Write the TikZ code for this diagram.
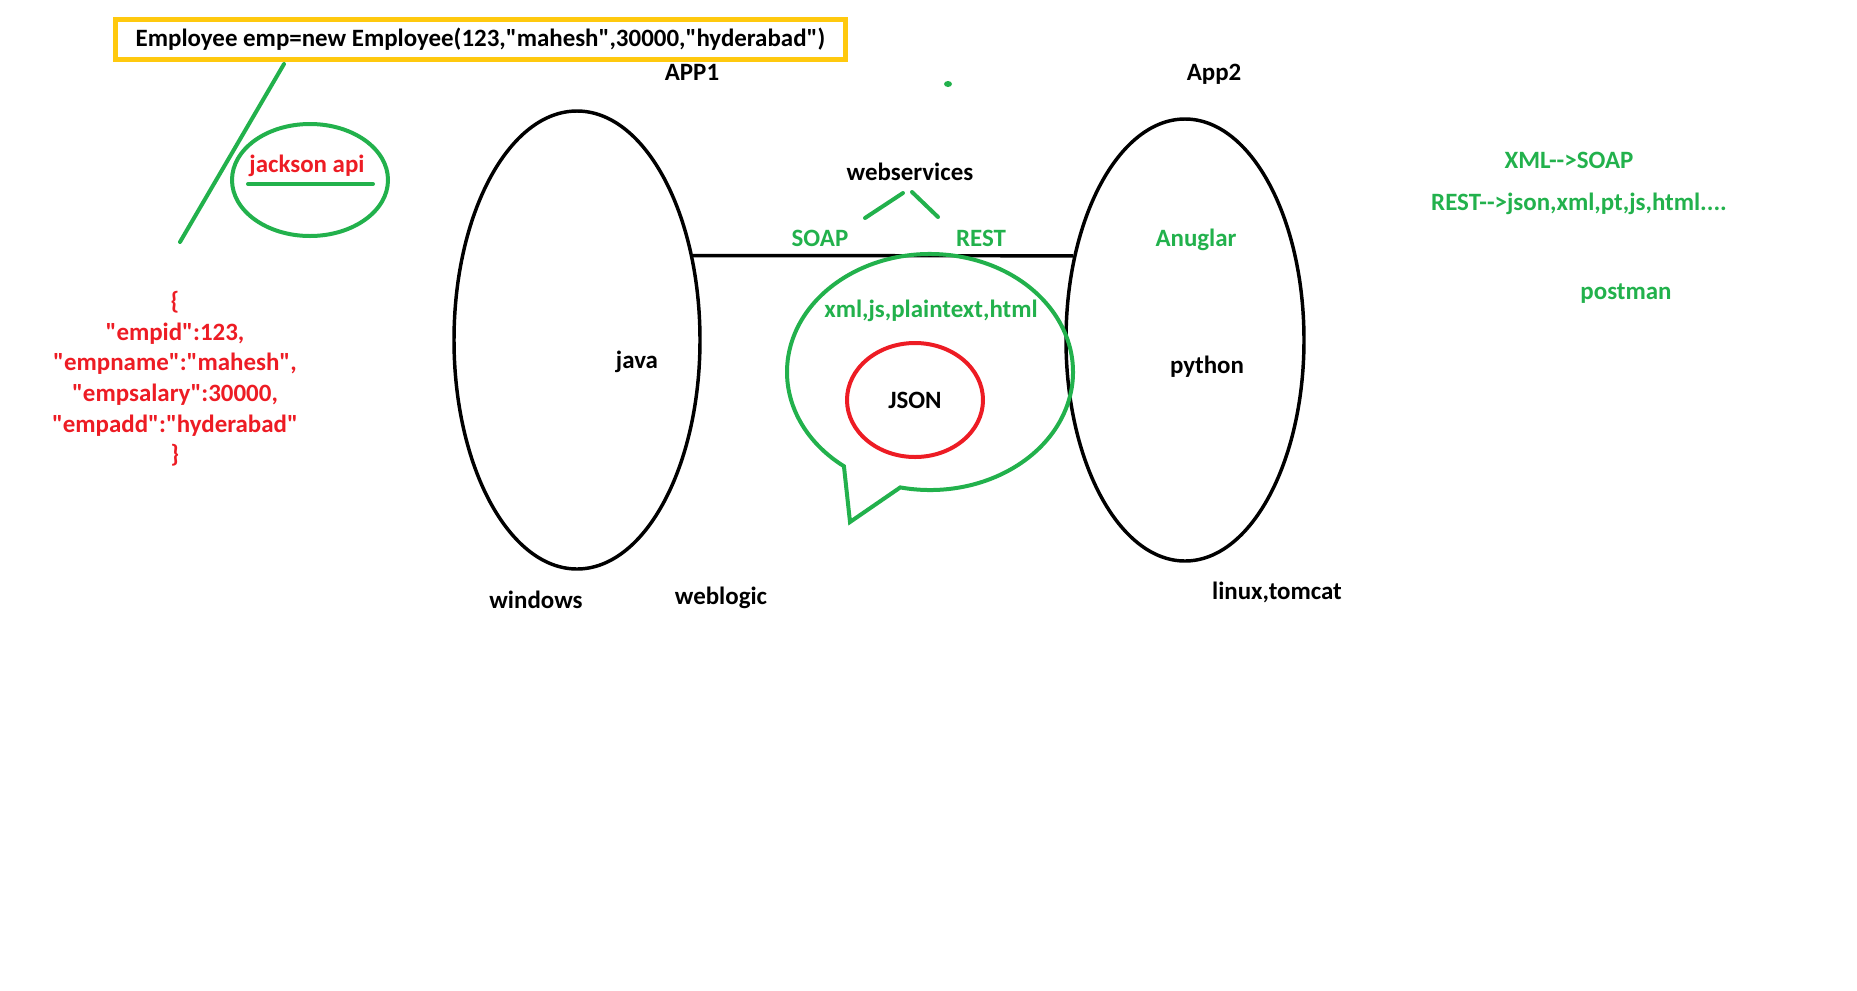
\documentclass[tikz,border=0pt]{standalone}
\usepackage{fontspec}
\setmainfont{Carlito}[Ligatures=TeXOff]
\usetikzlibrary{shapes.geometric}

\definecolor{paintgreen}{HTML}{22B14C}
\definecolor{paintred}{HTML}{ED1C24}
\definecolor{paintgold}{HTML}{FFC90E}

\begin{document}
\begin{tikzpicture}[x=0.75pt,y=-0.75pt,
  every node/.style={font=\fontsize{18.7}{23}\selectfont\bfseries},
  greentxt/.style={text=paintgreen},
  redtxt/.style={text=paintred},
  greenline/.style={draw=paintgreen,line width=3pt,line cap=round},
  appring/.style={ellipse,draw=black,line width=2.6pt,inner sep=0pt}]

\useasboundingbox (0,0) rectangle (1857,990);

\node[draw=paintgold,line width=3.6pt,minimum width=548pt,minimum height=30.5pt] (emp) at (480.5,39.5) {Employee emp=new Employee(123,"mahesh",30000,"hyderabad")};

\coordinate (jtop) at (284,64);
\coordinate (jfoot) at (180,242);
\draw[greenline] (jtop) -- (jfoot);

\node[ellipse,draw=paintgreen,line width=3pt,minimum width=117pt,minimum height=84pt] (jring) at (310,180) {};
\node[redtxt] (jtext) at (307,166) {jackson api};
\draw[greenline] (248,184) -- (373,184);

\node[redtxt,align=center] (jsondata) at (175,379) {\{\\"empid":123,\\"empname":"mahesh",\\"empsalary":30000,\\"empadd":"hyderabad"\\\}};

\node[appring,minimum width=184.5pt,minimum height=343.5pt] (app1) at (577,340) {};
\node[appring,minimum width=178.5pt,minimum height=331.5pt] (app2) at (1185,340) {};
\draw[line width=2.6pt] (app1.36) -- (app2.143);

\node (app1lbl) at (692,72) {APP1};
\node (app2lbl) at (1214,74) {App2};
\node (java) at (637,362) {java};
\node (python) at (1207,367) {python};
\node (windows) at (536,600) {windows};
\node (weblogic) at (721,598) {weblogic};
\node (linux) at (1277,592) {linux,tomcat};

\node (ws) at (910,172) {webservices};
\node[greentxt] (soap) at (820,238) {SOAP};
\node[greentxt] (rest) at (981,238) {REST};
\draw[greenline] (865,218) -- (903,193);
\draw[greenline] (912,192) -- (938,217);
\fill[paintgreen] (948,84) ellipse [x radius=4, y radius=3];

\coordinate (bub) at (930,372);
\coordinate (tailtip) at (850,522);
\draw[greenline,line cap=butt] (bub) ++(102:143 and 118) arc[start angle=102,end angle=-233,x radius=143,y radius=118] -- (tailtip) -- cycle;
\node[greentxt] (formats) at (931,311) {xml,js,plaintext,html};
\node[ellipse,draw=paintred,line width=3pt,minimum width=102pt,minimum height=85.5pt] (json) at (915,400) {JSON};

\node[greentxt] (anuglar) at (1196,240) {Anuglar};
\node[greentxt] (xmlsoap) at (1569,160) {XML-->SOAP};
\node[greentxt] (restfmt) at (1579,204) {REST-->json,xml,pt,js,html....};
\node[greentxt] (postman) at (1626,294) {postman};
\end{tikzpicture}
\end{document}
